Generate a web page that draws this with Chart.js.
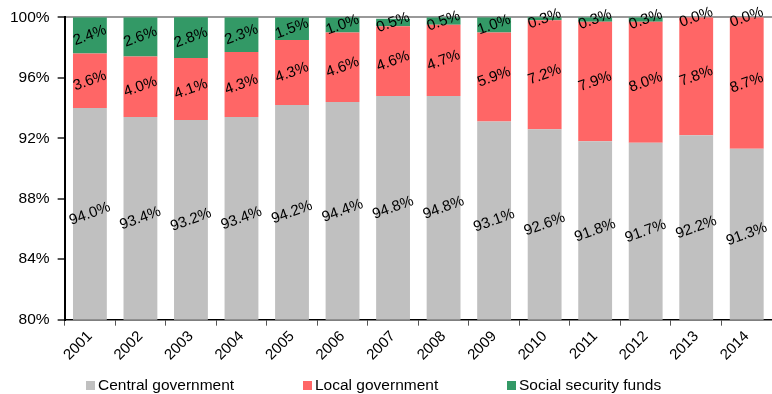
<!DOCTYPE html>
<html lang="en">
<head>
<meta charset="UTF-8">
<title>Expenditure shares by government level</title>
<script src="https://cdn.jsdelivr.net/npm/chart.js"></script>
<style>
    body {
        margin: 0;
        padding: 0;
        background: #fff;
        font-family: "Liberation Sans", Arial, sans-serif;
    }
    .wrap {
        position: relative;
        width: 772px;
        height: 394px;
    }
    canvas {
        display: block;
    }
    .legend {
        position: absolute;
        top: 376px;
        left: 0;
        width: 772px;
        height: 18px;
    }
    .legend span {
        position: absolute;
        top: 0;
        font-size: 15.5px;
        line-height: 18px;
        color: #000;
        white-space: nowrap;
    }
    .legend i {
        display: inline-block;
        width: 9px;
        height: 9px;
        margin-right: 3px;
        vertical-align: 0px;
    }
</style>
</head>
<body>
<div class="wrap">
    <canvas id="shareChart" width="772" height="394"></canvas>
    <div class="legend" id="legend"></div>
</div>

<script>
    var years = ['2001', '2002', '2003', '2004', '2005', '2006', '2007', '2008', '2009', '2010', '2011', '2012', '2013', '2014'];
    var central = [94.0, 93.4, 93.2, 93.4, 94.2, 94.4, 94.8, 94.8, 93.1, 92.6, 91.8, 91.7, 92.2, 91.3];
    var local = [3.6, 4.0, 4.1, 4.3, 4.3, 4.6, 4.6, 4.7, 5.9, 7.2, 7.9, 8.0, 7.8, 8.7];
    var social = [2.4, 2.6, 2.8, 2.3, 1.5, 1.0, 0.5, 0.5, 1.0, 0.3, 0.3, 0.3, 0.0, 0.0];

    Chart.defaults.font.family = '"Liberation Sans", Arial, sans-serif';
    Chart.defaults.color = '#000';

    // writes each segment's value in the middle of the visible part of the bar, tilted
    var segmentLabels = {
        id: 'segmentLabels',
        afterDatasetsDraw: function(chart) {
            var ctx = chart.ctx;
            var area = chart.chartArea;
            ctx.save();
            ctx.font = '15px "Liberation Sans", Arial, sans-serif';
            ctx.fillStyle = '#000';
            ctx.textAlign = 'center';
            ctx.textBaseline = 'middle';
            chart.data.datasets.forEach(function(ds, i) {
                var meta = chart.getDatasetMeta(i);
                meta.data.forEach(function(bar, j) {
                    var p = bar.getProps(['x', 'y', 'base'], true);
                    var top = Math.max(Math.min(p.y, p.base), area.top);
                    var bottom = Math.min(Math.max(p.y, p.base), area.bottom);
                    var cy = (top + bottom) / 2;
                    ctx.save();
                    ctx.translate(p.x, cy);
                    ctx.rotate(-20 * Math.PI / 180);
                    ctx.fillText(ds.data[j].toFixed(1) + '%', 0, 0);
                    ctx.restore();
                });
            });
            ctx.restore();
        }
    };

    var ctx = document.getElementById('shareChart').getContext('2d');
    var shareChart = new Chart(ctx, {
        type: 'bar',
        data: {
            labels: years,
            datasets: [
                { label: 'Central government', data: central, backgroundColor: '#c0c0c0' },
                { label: 'Local government', data: local, backgroundColor: '#ff6666' },
                { label: 'Social security funds', data: social, backgroundColor: '#339966' }
            ]
        },
        options: {
            responsive: false,
            animation: false,
            layout: {
                padding: { top: 12, right: 0, left: 2, bottom: 28 }
            },
            datasets: {
                bar: {
                    barPercentage: 0.67,
                    categoryPercentage: 1.0
                }
            },
            scales: {
                x: {
                    stacked: true,
                    border: { color: '#000', width: 1.5 },
                    grid: {
                        offset: true,
                        drawOnChartArea: false,
                        tickLength: 6,
                        tickColor: '#555'
                    },
                    ticks: {
                        font: { size: 15 },
                        maxRotation: 45,
                        minRotation: 45,
                        padding: 2
                    }
                },
                y: {
                    stacked: true,
                    min: 80,
                    max: 100,
                    border: { color: '#000', width: 2 },
                    grid: {
                        color: function(c) { return c.tick && c.tick.value === 100 ? '#999' : 'rgba(0,0,0,0)'; },
                        lineWidth: 2,
                        tickLength: 7,
                        tickColor: '#555'
                    },
                    ticks: {
                        stepSize: 4,
                        font: { size: 15.5 },
                        padding: 8,
                        callback: function(v) { return v + '%'; }
                    }
                }
            },
            plugins: {
                legend: { display: false },
                tooltip: { enabled: false }
            }
        },
        plugins: [segmentLabels]
    });

    // legend row under the axis, built from the chart's own datasets
    var legendLeft = [86, 303, 507];
    var legendEl = document.getElementById('legend');
    shareChart.data.datasets.forEach(function(ds, i) {
        var item = document.createElement('span');
        item.style.left = legendLeft[i] + 'px';
        var box = document.createElement('i');
        box.style.background = ds.backgroundColor;
        item.appendChild(box);
        item.appendChild(document.createTextNode(ds.label));
        legendEl.appendChild(item);
    });
</script>
</body>
</html>
